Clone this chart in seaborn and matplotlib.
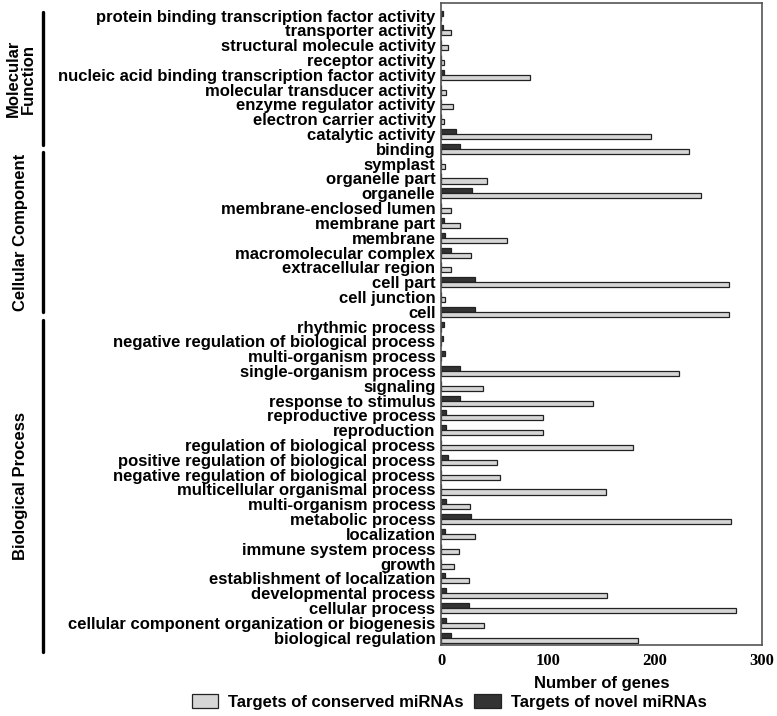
import pandas as pd
import seaborn as sns
import matplotlib.pyplot as plt
from matplotlib.lines import Line2D
from matplotlib.patches import Patch

# GO terms, top to bottom
terms = [
    # Molecular Function
    "protein binding transcription factor activity", "transporter activity",
    "structural molecule activity", "receptor activity",
    "nucleic acid binding transcription factor activity",
    "molecular transducer activity", "enzyme regulator activity",
    "electron carrier activity", "catalytic activity", "binding",
    # Cellular Component
    "symplast", "organelle part", "organelle", "membrane-enclosed lumen",
    "membrane part", "membrane", "macromolecular complex",
    "extracellular region", "cell part", "cell junction", "cell",
    # Biological Process
    "rhythmic process", "negative regulation of biological process",
    "multi-organism process", "single-organism process", "signaling",
    "response to stimulus", "reproductive process", "reproduction",
    "regulation of biological process",
    "positive regulation of biological process",
    "negative regulation of biological process",
    "multicellular organismal process", "multi-organism process",
    "metabolic process", "localization", "immune system process", "growth",
    "establishment of localization", "developmental process",
    "cellular process", "cellular component organization or biogenesis",
    "biological regulation",
]

conserved = [0, 9, 7, 3, 83, 5, 11, 3, 196, 232,
             4, 43, 243, 9, 18, 62, 28, 9, 269, 4, 269,
             0, 0, 0, 222, 39, 142, 95, 95, 179, 52, 55, 154, 27, 271, 32,
             17, 12, 26, 155, 276, 40, 184]
novel = [2, 2, 0, 0, 3, 0, 0, 0, 14, 18,
         0, 0, 29, 0, 3, 4, 9, 0, 32, 0, 32,
         3, 2, 4, 18, 0, 18, 5, 5, 0, 7, 0, 0, 5, 28, 4,
         0, 0, 4, 5, 26, 5, 9]

series_names = ["Targets of conserved miRNAs", "Targets of novel miRNAs"]
colors = {"conserved": "#d6d6d6", "novel": "#333333"}

rows = list(range(len(terms)))
df = pd.concat([
    pd.DataFrame({"row": rows, "count": conserved, "series": "conserved"}),
    pd.DataFrame({"row": rows, "count": novel, "series": "novel"}),
])

sns.set_theme(style="white")
plt.rcParams["font.family"] = ["Liberation Sans", "DejaVu Sans"]
plt.rcParams["text.color"] = "black"
plt.rcParams["axes.labelcolor"] = "black"
plt.rcParams["xtick.color"] = "black"
plt.rcParams["ytick.color"] = "black"

fig = plt.figure(figsize=(7.77, 7.16), dpi=100)
ax = fig.add_axes([441 / 777, 1 - 645 / 716, (762 - 441) / 777, (645 - 3) / 716])

sns.barplot(data=df, y="row", x="count", hue="series", hue_order=["novel", "conserved"],
            orient="h", palette=colors, width=0.68, gap=0, edgecolor="#222222",
            linewidth=0.9, legend=False, ax=ax)

ax.set_xlim(0, 300)
ax.set_ylim(42.5, -0.85)
ax.set_xticks([0, 100, 200, 300])
ax.set_xticklabels(["0", "100", "200", "300"], family="Liberation Serif",
                   fontweight="bold", fontsize=12)
ax.set_yticks(rows)
ax.set_yticklabels(terms, fontweight="bold", fontsize=12)
ax.tick_params(axis="y", length=0, pad=4)
ax.tick_params(axis="x", direction="in", length=5, width=1, color="#333333", pad=6)
ax.set_ylabel("")
ax.set_xlabel("Number of genes", fontweight="bold", fontsize=12, labelpad=5)
for s in ax.spines.values():
    s.set_visible(True)
    s.set_color("#555555")
    s.set_linewidth(1.2)

# group brackets on the left
def fx(px):
    return px / 777

def fy(py):
    return 1 - py / 716

groups = [("Molecular\nFunction", 12, 145), ("Cellular Component", 152, 312),
          ("Biological Process", 320, 652)]
for label, top, bottom in groups:
    fig.add_artist(Line2D([fx(43), fx(43)], [fy(top), fy(bottom)], color="black", lw=2.4))
    fig.text(fx(21), fy((top + bottom) / 2), label, rotation=90, ha="center", va="center",
             fontweight="bold", fontsize=12, linespacing=1.0)

handles = [Patch(facecolor=colors["conserved"], edgecolor="#222222", linewidth=0.9),
           Patch(facecolor=colors["novel"], edgecolor="#222222", linewidth=0.9)]
fig.legend(handles, series_names, loc="center", bbox_to_anchor=(fx(449), fy(702)), ncol=2,
           frameon=False, prop={"weight": "bold", "size": 12}, handlelength=1.6,
           handleheight=0.9, handletextpad=0.6, columnspacing=0.6)

fig.savefig("out.png", dpi=100)
